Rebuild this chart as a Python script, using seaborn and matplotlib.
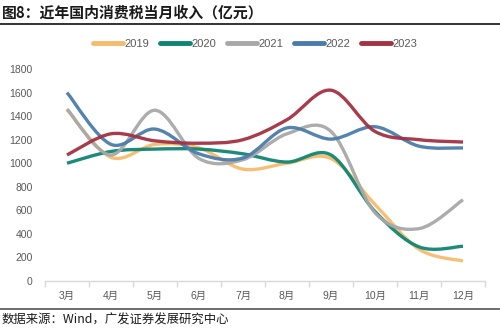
import numpy as np
import pandas as pd
import matplotlib
matplotlib.use("Agg")
import matplotlib.pyplot as plt
import seaborn as sns
from matplotlib.path import Path
from matplotlib.patches import PathPatch
from matplotlib.lines import Line2D

months = ["3月", "4月", "5月", "6月", "7月", "8月", "9月", "10月", "11月", "12月"]
years = ["2019", "2020", "2021", "2022", "2023"]
v2019 = [1455, 1050, 1160, 1130, 950, 1000, 1040, 650, 270, 170]
v2020 = [1000, 1100, 1120, 1120, 1080, 1010, 1070, 590, 290, 295]
v2021 = [1460, 1070, 1450, 1040, 1030, 1250, 1270, 580, 445, 690]
v2022 = [1600, 1160, 1290, 1080, 1045, 1300, 1205, 1310, 1145, 1130]
v2023 = [1070, 1250, 1190, 1170, 1200, 1370, 1620, 1270, 1200, 1180]
colors = ["#F6BC6E", "#0F8572", "#A8A8A8", "#4A7CAB", "#A33142"]
yticks = [0, 200, 400, 600, 800, 1000, 1200, 1400, 1600, 1800]

series = [v2019, v2020, v2021, v2022, v2023]
df = pd.DataFrame({
    "month": months * len(years),
    "x": list(range(len(months))) * len(years),
    "year": [y for y in years for _ in months],
    "value": [v for s in series for v in s],
})

sns.set_theme(style="white")
plt.rcParams["font.family"] = ["Liberation Sans", "Noto Sans CJK SC", "DejaVu Sans"]

fig = plt.figure(figsize=(5.0, 3.31), dpi=100)
ax = fig.add_axes([0.09, 0.151, 0.88, 0.6405])

sns.lineplot(data=df, x="x", y="value", hue="year", palette=colors,
             ax=ax, legend=False, linewidth=2.3)

# Smooth each line (Excel-like Catmull-Rom Bezier), drawn in data coords
for line, col in zip(ax.get_lines(), colors):
    xy = np.asarray(line.get_xydata())
    n = len(xy)
    verts = [tuple(xy[0])]
    codes = [Path.MOVETO]
    for i in range(n - 1):
        p0 = xy[i - 1] if i > 0 else xy[i]
        p1 = xy[i]
        p2 = xy[i + 1]
        p3 = xy[i + 2] if i + 2 < n else xy[i + 1]
        c1 = p1 + (p2 - p0) / 6.0
        c2 = p2 - (p3 - p1) / 6.0
        verts += [tuple(c1), tuple(c2), tuple(p2)]
        codes += [Path.CURVE4] * 3
    patch = PathPatch(Path(verts, codes), facecolor="none", edgecolor=col,
                      lw=2.4, alpha=0.95, capstyle="butt", joinstyle="round")
    ax.add_patch(patch)
    line.set_visible(False)

ax.set_xlim(-0.5, len(months) - 0.5)
ax.set_ylim(0, 1800)
ax.set_yticks(yticks)
ax.set_yticklabels([str(t) for t in yticks])
ax.set_xticks(range(len(months)))
ax.set_xticklabels(months)
ax.set_xticks(np.arange(-0.5, len(months), 1.0), minor=True)
ax.set_xlabel("")
ax.set_ylabel("")

for s in ["left", "right", "top"]:
    ax.spines[s].set_visible(False)
ax.spines["bottom"].set_color("#D9D9D9")
ax.spines["bottom"].set_linewidth(1.0)

ax.tick_params(axis="y", length=0, pad=9, labelsize=7.5, labelcolor="#595959")
ax.tick_params(axis="x", which="major", length=0, pad=7, labelsize=7.5, labelcolor="#595959")
ax.tick_params(axis="x", which="minor", length=4, width=1.0, color="#D9D9D9", bottom=True)
ax.grid(False)

handles = [Line2D([0], [0], color=c, lw=3.5) for c in colors]
fig.legend(handles, years, loc="center", bbox_to_anchor=(0.51, 0.867), ncol=5,
           frameon=False, fontsize=8, handlelength=2.7, handletextpad=0.1,
           columnspacing=1.0, labelcolor="#595959")

fig.text(0.004, 0.963, "图8：近年国内消费税当月收入（亿元）", ha="left", va="center",
         fontsize=10.7, fontweight="bold", color="#1a1a1a",
         family=["Noto Sans CJK SC", "DejaVu Sans"])
fig.add_artist(Line2D([0, 1], [1 - 24 / 331, 1 - 24 / 331], color="#222222", lw=1.3,
                      transform=fig.transFigure))
fig.add_artist(Line2D([0, 1], [1 - 309 / 331, 1 - 309 / 331], color="#555555", lw=1.2,
                      transform=fig.transFigure))
fig.text(0.004, 1 - 320 / 331, "数据来源：Wind，广发证券发展研究中心", ha="left", va="center",
         fontsize=8.9, color="#1a1a1a", family=["Noto Sans CJK SC", "DejaVu Sans"])

fig.savefig("out.png", dpi=100)
